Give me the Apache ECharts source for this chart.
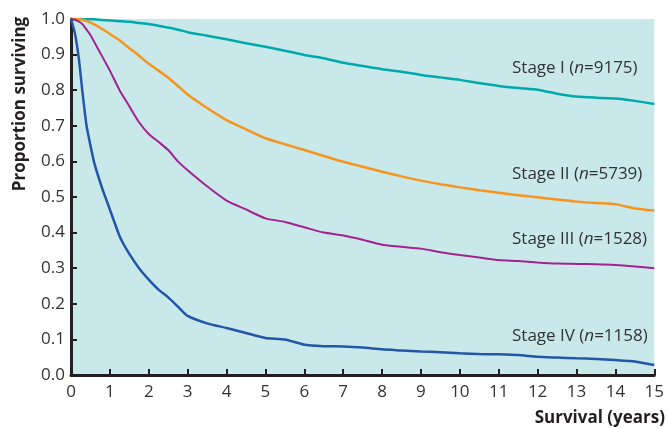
<!DOCTYPE html>
<html>
<head>
<meta charset="utf-8">
<script src="https://cdn.jsdelivr.net/npm/echarts@6/dist/echarts.min.js"></script>
<style>
  html, body { margin: 0; padding: 0; background: #fff; }
  #chart { width: 667px; height: 428px; }
</style>
</head>
<body>
<div id="chart"></div>
<script>
// survival time grid (years), shared by all four stages
var years = [0, 0.1, 0.2, 0.3, 0.4, 0.5, 0.6, 0.8, 1, 1.25, 1.5, 1.75, 2, 2.25, 2.5, 2.75, 3,
  3.5, 4, 4.5, 5, 5.5, 6, 6.5, 7, 7.5, 8, 8.5, 9, 9.5, 10, 10.5, 11, 11.5, 12, 12.5, 13, 13.5, 14, 14.5, 15];

var stage1 = [1, 1, 1, 1, 0.999, 0.999, 0.999, 0.997, 0.996, 0.994, 0.992, 0.989, 0.986, 0.981, 0.976, 0.970, 0.963,
  0.953, 0.943, 0.932, 0.922, 0.911, 0.899, 0.89, 0.877, 0.868, 0.859, 0.852, 0.843, 0.836, 0.829, 0.82, 0.812, 0.806, 0.801, 0.79, 0.782, 0.779, 0.777, 0.77, 0.761];
var stage2 = [1, 1, 0.999, 0.997, 0.994, 0.99, 0.985, 0.972, 0.958, 0.94, 0.918, 0.897, 0.874, 0.855, 0.835, 0.812, 0.788,
  0.75, 0.716, 0.69, 0.665, 0.648, 0.632, 0.615, 0.599, 0.585, 0.571, 0.558, 0.546, 0.536, 0.527, 0.519, 0.512, 0.505, 0.499, 0.493, 0.487, 0.483, 0.48, 0.468, 0.462];
var stage3 = [1, 0.998, 0.993, 0.985, 0.97, 0.955, 0.935, 0.895, 0.855, 0.80, 0.755, 0.71, 0.677, 0.655, 0.632, 0.60, 0.575,
  0.53, 0.49, 0.465, 0.44, 0.43, 0.415, 0.40, 0.392, 0.38, 0.366, 0.36, 0.355, 0.345, 0.337, 0.33, 0.323, 0.32, 0.316, 0.313, 0.312, 0.311, 0.309, 0.305, 0.30];
var stage4 = [1, 0.96, 0.89, 0.79, 0.70, 0.645, 0.595, 0.525, 0.465, 0.39, 0.34, 0.30, 0.268, 0.24, 0.218, 0.192, 0.166,
  0.145, 0.132, 0.118, 0.104, 0.100, 0.085, 0.081, 0.080, 0.077, 0.072, 0.069, 0.066, 0.064, 0.061, 0.059, 0.058, 0.056, 0.051, 0.049, 0.047, 0.045, 0.042, 0.038, 0.028];

var stageNames = ['Stage I', 'Stage II', 'Stage III', 'Stage IV'];
var stageN = ['9175', '5739', '1528', '1158'];

function pairs(vals) {
  var out = [];
  for (var i = 0; i < years.length; i++) out.push([years[i], vals[i]]);
  return out;
}

var font = '"Open Sans", "Noto Sans", sans-serif';
var ink = '#333333';

function line(name, vals, color, w) {
  return {
    name: name,
    type: 'line',
    data: pairs(vals),
    showSymbol: false,
    smooth: 0.2,
    lineStyle: { color: color, width: w },
    z: 3
  };
}

function stageLabel(i, y) {
  return {
    type: 'text',
    left: 512,
    top: y - 12,
    style: {
      text: '{a|' + stageNames[i] + ' (}{i|n}{a|=' + stageN[i] + ')}',
      rich: {
        a: { fontFamily: font, fontSize: 17, fill: ink },
        i: { fontFamily: font, fontSize: 17, fill: ink, fontStyle: 'italic' }
      }
    },
    z: 10
  };
}

var myChart = echarts.init(document.getElementById('chart'));
var option = {
  animation: false,
  grid: {
    left: 71, right: 9, top: 19, bottom: 53,
    show: true,
    backgroundColor: '#c8e8e9',
    borderWidth: 0
  },
  xAxis: {
    type: 'value',
    min: 0, max: 15, interval: 1,
    axisLine: { show: true, onZero: false, lineStyle: { color: '#231f20', width: 3 } },
    axisTick: { show: true, inside: true, length: 6, lineStyle: { color: '#231f20', width: 2 } },
    splitLine: { show: false },
    axisLabel: { color: ink, fontFamily: font, fontSize: 17, margin: 9 }
  },
  yAxis: {
    type: 'value',
    min: 0, max: 1, interval: 0.1,
    axisLine: { show: true, lineStyle: { color: '#231f20', width: 3 } },
    axisTick: { show: true, inside: true, length: 6, lineStyle: { color: '#231f20', width: 2 } },
    splitLine: { show: false },
    axisLabel: {
      color: ink, fontFamily: font, fontSize: 17, margin: 6,
      formatter: function (v) { return v.toFixed(1); }
    }
  },
  series: [
    line('Stage I', stage1, '#00a9ac', 2.5),
    line('Stage II', stage2, '#f7941d', 2.5),
    line('Stage III', stage3, '#a3238e', 2),
    line('Stage IV', stage4, '#2356a8', 2.5)
  ],
  graphic: [
    stageLabel(0, 72),
    stageLabel(1, 178),
    stageLabel(2, 243),
    stageLabel(3, 340),
    {
      type: 'text',
      right: 2,
      top: 410,
      style: { text: 'Survival (years)', fontFamily: font, fontSize: 17, fontWeight: 'bold', fill: '#231f20' }
    },
    {
      type: 'text',
      x: 20, y: 104,
      rotation: Math.PI / 2,
      style: {
        text: 'Proportion surviving', fontFamily: font, fontSize: 17, fontWeight: 'bold', fill: '#231f20',
        align: 'center', verticalAlign: 'middle'
      }
    }
  ]
};
myChart.setOption(option);
</script>
</body>
</html>
